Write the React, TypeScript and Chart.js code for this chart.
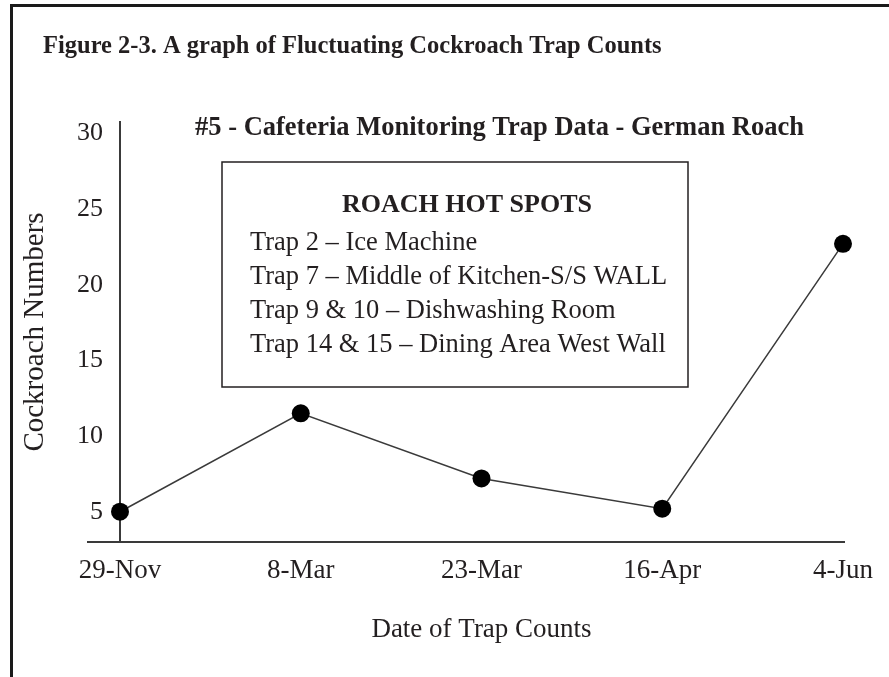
import { useEffect, useRef } from 'react';
import { Chart, registerables } from 'chart.js';

Chart.register(...registerables);

// ---- data ----
const figureCaption = 'Figure 2-3. A graph of Fluctuating Cockroach Trap Counts';
const chartTitle = '#5 - Cafeteria Monitoring Trap Data - German Roach';
const categories = ['29-Nov', '8-Mar', '23-Mar', '16-Apr', '4-Jun'];
const roachCounts = [5, 11.5, 7.2, 5.2, 22.7];
const yTickValues = [5, 10, 15, 20, 25, 30];
const yAxisTitle = 'Cockroach Numbers';
const xAxisTitle = 'Date of Trap Counts';
const hotSpotsTitle = 'ROACH HOT SPOTS';
const hotSpots = [
  'Trap 2 – Ice Machine',
  'Trap 7 – Middle of Kitchen-S/S WALL',
  'Trap 9 & 10 – Dishwashing Room',
  'Trap 14 & 15 – Dining Area West Wall',
];

// ---- styles ----
const FONT = '"Liberation Serif", "Times New Roman", serif';
const TEXT = '#231f20';
const AXIS = '#3a3a3a';

const overlayPlugin = {
  id: 'overlay',
  beforeDraw(chart: any) {
    const ctx = chart.ctx as CanvasRenderingContext2D;
    ctx.save();
    ctx.fillStyle = '#ffffff';
    ctx.fillRect(0, 0, chart.width, chart.height);
    // figure frame (top + left edge)
    ctx.strokeStyle = '#1a1a1a';
    ctx.lineWidth = 3;
    ctx.beginPath();
    ctx.moveTo(11.5, chart.height);
    ctx.lineTo(11.5, 5.5);
    ctx.lineTo(chart.width, 5.5);
    ctx.stroke();
    ctx.restore();
  },
  afterDraw(chart: any) {
    const ctx = chart.ctx as CanvasRenderingContext2D;
    const area = chart.chartArea;
    ctx.save();
    // x axis line extends left past the y axis
    ctx.strokeStyle = AXIS;
    ctx.lineWidth = 2;
    ctx.beginPath();
    ctx.moveTo(area.left - 33, area.bottom);
    ctx.lineTo(area.left, area.bottom);
    ctx.moveTo(area.right, area.bottom);
    ctx.lineTo(area.right + 2, area.bottom);
    ctx.stroke();

    ctx.fillStyle = TEXT;
    ctx.textBaseline = 'alphabetic';
    // caption
    ctx.font = `bold 24.5px ${FONT}`;
    ctx.textAlign = 'left';
    ctx.fillText(figureCaption, 43, 53);
    // chart title
    ctx.font = `bold 26.5px ${FONT}`;
    ctx.textAlign = 'center';
    ctx.fillText(chartTitle, 499.5, 135);

    // hot spot box
    ctx.strokeStyle = TEXT;
    ctx.lineWidth = 1.5;
    ctx.strokeRect(222, 162, 466, 225);
    ctx.font = `bold 26px ${FONT}`;
    ctx.textAlign = 'center';
    ctx.fillText(hotSpotsTitle, 467, 212);
    ctx.font = `26.5px ${FONT}`;
    ctx.textAlign = 'left';
    hotSpots.forEach((line, i) => {
      ctx.fillText(line, 250, 250 + i * 34);
    });
    ctx.restore();
  },
};

export default function App() {
  const canvasRef = useRef<HTMLCanvasElement | null>(null);

  useEffect(() => {
    const canvas = canvasRef.current;
    if (!canvas) return;
    const chart = new Chart(canvas, {
      type: 'line',
      data: {
        labels: categories,
        datasets: [
          {
            data: roachCounts,
            borderColor: '#3a3a3a',
            borderWidth: 1.5,
            pointRadius: 9,
            pointBackgroundColor: '#000000',
            pointBorderColor: '#000000',
            pointBorderWidth: 0,
            tension: 0,
            fill: false,
            clip: false as any,
          },
        ],
      },
      options: {
        responsive: false,
        animation: false,
        devicePixelRatio: 1,
        layout: { padding: { top: 122, left: 18, right: 46, bottom: 0 } },
        plugins: {
          legend: { display: false },
          tooltip: { enabled: false },
          title: { display: false },
        },
        scales: {
          x: {
            type: 'category',
            offset: false,
            afterFit: (scale: any) => {
              scale.height = 135;
            },
            grid: { display: false, drawTicks: false },
            border: { display: true, color: AXIS, width: 2 },
            ticks: {
              color: TEXT,
              font: { family: FONT, size: 27 },
              padding: 13,
              maxRotation: 0,
              autoSkip: false,
            },
            title: {
              display: true,
              text: xAxisTitle,
              color: TEXT,
              font: { family: FONT, size: 27 },
              padding: { top: 26, bottom: 31 },
            },
          },
          y: {
            type: 'linear',
            min: 3,
            max: 30.75,
            afterBuildTicks: (scale: any) => {
              scale.ticks = yTickValues.map((v) => ({ value: v }));
            },
            afterFit: (scale: any) => {
              scale.width = 102;
            },
            grid: { display: false, drawTicks: false },
            border: { display: true, color: AXIS, width: 2 },
            ticks: {
              color: TEXT,
              font: { family: FONT, size: 26 },
              padding: 17,
            },
            title: {
              display: true,
              text: yAxisTitle,
              color: TEXT,
              font: { family: FONT, size: 29 },
              padding: { top: 0, bottom: 25 },
            },
          },
        },
      },
      plugins: [overlayPlugin],
    });
    return () => chart.destroy();
  }, []);

  return (
    <canvas
      ref={canvasRef}
      width={889}
      height={677}
      style={{ position: 'fixed', left: 0, top: 0, width: 889, height: 677, display: 'block' }}
    />
  );
}
